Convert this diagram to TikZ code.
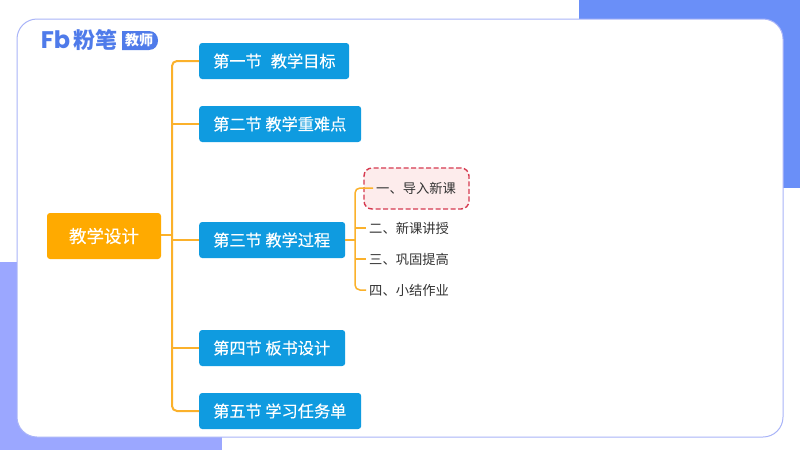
\documentclass[tikz,border=0pt]{standalone}
\usepackage{fontspec}
\setmainfont{Noto Sans CJK SC}
\newfontfamily\medfont[FakeBold=0.25]{Noto Sans CJK SC}
\newfontfamily\logofont{Poppins}
\usetikzlibrary{calc}
\definecolor{bgblue}{HTML}{6A8FF8}
\definecolor{bgviolet}{HTML}{9BA7FF}
\definecolor{panelline}{HTML}{A9B4F8}
\definecolor{rootfill}{HTML}{FFAA00}
\definecolor{secfill}{HTML}{0F9BE0}
\definecolor{linkcol}{HTML}{FBB12B}
\definecolor{logoblue}{HTML}{4F7BEA}
\definecolor{hlline}{HTML}{D63A50}
\definecolor{hlfill}{HTML}{FDECEC}
\definecolor{subtext}{HTML}{333333}
\newcommand{\sectext}[2]{\makebox[#1][l]{\hspace*{14pt}#2}}
\tikzset{
 rootbox/.style={fill=rootfill,rounded corners=3pt,text=white,font=\medfont\fontsize{17.5}{20}\selectfont,inner sep=0pt,anchor=center},
 secbox/.style={fill=secfill,rounded corners=3pt,text=white,font=\medfont\fontsize{16.2}{18}\selectfont,inner sep=0pt,minimum height=36pt,anchor=west},
 subitem/.style={text=subtext,font=\fontsize{13.3}{16}\selectfont,inner sep=0pt,anchor=west},
 link/.style={draw=linkcol,line width=2pt,rounded corners=5pt},
 sublink/.style={draw=linkcol,line width=1.5pt,rounded corners=5pt},
}
\begin{document}
\begin{tikzpicture}[x=1pt,y=-1pt]
\useasboundingbox (0,0) rectangle (800,450);
\fill[white] (0,0) rectangle (800,450);
\fill[bgblue] (579,0) rectangle (800,188);
\fill[bgviolet] (0,262) rectangle (222,450);
\draw[panelline,fill=white,line width=1pt,rounded corners=20pt] (17,19) rectangle (783,437);
% logo
\node[inner sep=0pt,anchor=center,text=logoblue,font=\logofont\bfseries\fontsize{24}{24}\selectfont] (logofb) at (55.5,40) {Fb};
\node[inner sep=0pt,anchor=center,text=logoblue,font=\bfseries\fontsize{22}{24}\selectfont] (logoname) at (95.5,40) {粉笔};
\fill[logoblue] (122,31) -- (149,31) .. controls (161,31) and (161,50) .. (149,50) -- (122,50) -- cycle;
\node[inner sep=0pt,anchor=center,text=white,font=\bfseries\fontsize{14}{16}\selectfont] (logotag) at (139,40.5) {教师};
% boxes
\node[rootbox,minimum width=114pt,minimum height=46pt] (root) at (104,236) {\raisebox{1pt}{教学设计}};
\node[secbox] (s1) at (199,61) {\sectext{150pt}{第一节\hspace{9pt}教学目标}};
\node[secbox] (s2) at (199,124) {\sectext{162pt}{第二节 教学重难点}};
\node[secbox] (s3) at (199,240) {\sectext{146pt}{第三节 教学过程}};
\node[secbox] (s4) at (199,348) {\sectext{146pt}{第四节 板书设计}};
\node[secbox] (s5) at (199,411) {\sectext{162pt}{第五节 学习任务单}};
% highlight
\node[draw=hlline,fill=hlfill,dash pattern=on 5pt off 2.5pt,line width=1.4pt,rounded corners=8pt,minimum width=105pt,minimum height=41pt,inner sep=0pt] (hl) at (416.5,188.5) {};
% connectors
\coordinate (tr) at (172,0);
\draw[link] (s1.west) -| (tr |- root.east) |- (s5.west);
\draw[link] (tr |- s2.west) -- (s2.west);
\draw[link] (tr |- s4.west) -- (s4.west);
\draw[link,rounded corners=0pt] ($(root.east)+(0,-1)$) -- ($(tr |- root.east)+(0,-1)$);
\draw[link,rounded corners=0pt] (tr |- s3.west) -- (s3.west);
% sub items
\node[subitem] (t1) at (376,188.5) {一、导入新课};
\node[subitem] (t2) at (369,228) {二、新课讲授};
\node[subitem] (t3) at (369,259) {三、巩固提高};
\node[subitem] (t4) at (369,290) {四、小结作业};
\coordinate (st) at (355,0);
\coordinate (e1) at (373,188);
\draw[sublink] (e1) -| (st |- s3.east) |- ($(t4.west)+(-3,0)$);
\draw[sublink] (st |- t2.west) -- ($(t2.west)+(-3,0)$);
\draw[sublink] (st |- t3.west) -- ($(t3.west)+(-3,0)$);
\draw[sublink,rounded corners=0pt] (s3.east) -- (st |- s3.east);
\end{tikzpicture}
\end{document}
